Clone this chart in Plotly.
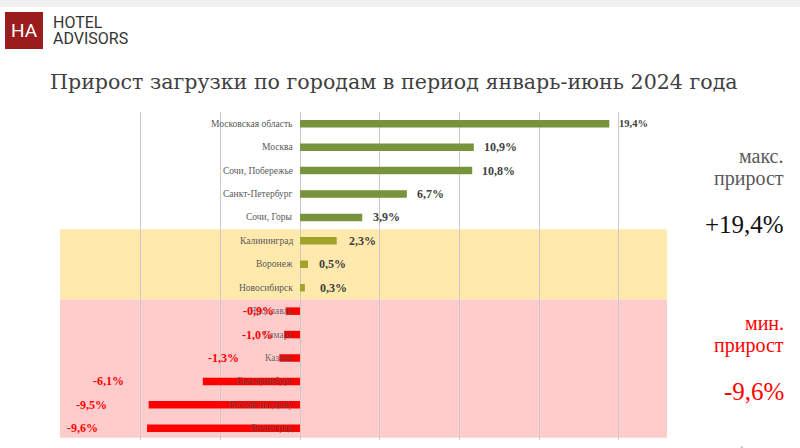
import plotly.graph_objects as go

cities = ["Московская область", "Москва", "Сочи, Побережье", "Санкт-Петербург", "Сочи, Горы",
          "Калининград", "Воронеж", "Новосибирск",
          "Ярославль", "Самара", "Казань", "Екатеринбург", "Ростов-на-Дону", "Волгоград"]
growth = [19.4, 10.9, 10.8, 6.7, 3.9, 2.3, 0.5, 0.3, -0.9, -1.0, -1.3, -6.1, -9.5, -9.6]
value_labels = ["19,4%", "10,9%", "10,8%", "6,7%", "3,9%", "2,3%", "0,5%", "0,3%",
                "-0,9%", "-1,0%", "-1,3%", "-6,1%", "-9,5%", "-9,6%"]
x_ticks = [-15, -10, -5, 0, 5, 10, 15, 20]

# styling (not data)
label_gap = [8, 8, 8, 8, 9, 10, 9, 13, 10, 9, 38, 77, 40, 47]
GREEN = "#77933C"
OLIVE = "#A0A22A"
RED = "#FF0000"

def bar_color(i, v):
    if v < 0:
        return RED
    return OLIVE if 5 <= i <= 7 else GREEN

colors = [bar_color(i, v) for i, v in enumerate(growth)]

fig = go.Figure()
fig.add_trace(go.Bar(
    x=growth, y=cities, orientation="h", marker=dict(color=colors, line=dict(width=0)),
    width=0.32, hoverinfo="skip",
))

serif = "Liberation Serif"
ann = []
for i, (c, v, t) in enumerate(zip(cities, growth, value_labels)):
    ann.append(dict(x=0, y=c, xref="x", yref="y", text=c, showarrow=False,
                    xanchor="right", xshift=-5,
                    font=dict(family=serif, size=9.5,
                              color="rgba(80,80,80,0.85)" if v < 0 else "#595959")))
    if v >= 0:
        ann.append(dict(x=v, y=c, xref="x", yref="y", text="<b>%s</b>" % t, showarrow=False,
                        xanchor="left", xshift=label_gap[i],
                        font=dict(family=serif, size=10.5 if i == 0 else 12, color="#404040")))
    else:
        ann.append(dict(x=v, y=c, xref="x", yref="y", text="<b>%s</b>" % t, showarrow=False,
                        xanchor="right", xshift=-label_gap[i],
                        font=dict(family=serif, size=12, color=RED)))

ann.append(dict(x=48, y=82, xref="paper", yref="paper", text="Прирост загрузки по городам в период январь-июнь 2024 года",
                showarrow=False, xanchor="left", yanchor="middle",
                font=dict(family="DejaVu Serif", size=20.6, color="#404040")))
ann.append(dict(x=24, y=31, text="HA", showarrow=False, xanchor="center", yanchor="middle",
                font=dict(family="Roboto", size=19, color="white")))
ann.append(dict(x=51, y=23, text="HOTEL", showarrow=False, xanchor="left", yanchor="middle",
                font=dict(family="Roboto", size=16, color="#333333")))
ann.append(dict(x=51, y=38, text="ADVISORS", showarrow=False, xanchor="left", yanchor="middle",
                font=dict(family="Roboto", size=16, color="#333333")))
for txt, y, size, col in [("макс.", 156, 20, "#595959"), ("прирост", 178, 20, "#595959"),
                          ("+19,4%", 224, 25, "#111111"),
                          ("мин.", 323, 20, RED), ("прирост", 345, 20, RED),
                          ("-9,6%", 391, 25, RED)]:
    ann.append(dict(x=786, y=y, text=txt, showarrow=False, xanchor="right", yanchor="middle",
                    font=dict(family=serif, size=size, color=col)))
ann.append(dict(x=735, y=450, text="Активация Windows", showarrow=False, xanchor="left", yanchor="middle",
                font=dict(family="Noto Sans", size=15, color="#c8c8c8")))

W, H = 800, 448
ML, MR, MT, MB = 60, 133, 112, 8
PW, PH = W - ML - MR, H - MT - MB
for a in ann:
    if "xref" not in a or a["xref"] == "paper":
        a["xref"] = "paper"; a["yref"] = "paper"
        a["x"] = (a["x"] - ML) / PW
        a["y"] = 1 - (a["y"] - MT) / PH

def px_rect(x0, y0, x1, y1, color):
    return dict(type="rect", xref="paper", yref="paper",
                x0=(x0 - ML) / PW, x1=(x1 - ML) / PW,
                y0=1 - (y0 - MT) / PH, y1=1 - (y1 - MT) / PH,
                fillcolor=color, line=dict(width=0), layer="below")

shapes = [
    dict(type="rect", xref="paper", yref="y", x0=0, x1=1, y0=4.5, y1=7.5,
         fillcolor="#FFE9AD", line=dict(width=0), layer="below"),
    dict(type="rect", xref="paper", yref="y", x0=0, x1=1, y0=7.5, y1=13.4,
         fillcolor="#FFCCCC", line=dict(width=0), layer="below"),
    px_rect(0, 0, 800, 7, "#F0F0F0"),
    px_rect(5, 12, 43, 49, "#9B1C1C"),
]

fig.update_layout(
    width=W, height=H, margin=dict(l=ML, r=MR, t=MT, b=MB),
    paper_bgcolor="white", plot_bgcolor="rgba(0,0,0,0)",
    showlegend=False, annotations=ann, shapes=shapes,
    xaxis=dict(range=[-15.06, 23.02], tickvals=x_ticks, showticklabels=False,
               showgrid=True, gridcolor="#D0C8C8", gridwidth=1, zeroline=False, fixedrange=True),
    yaxis=dict(categoryorder="array", categoryarray=cities, autorange=False,
               range=[13.5, -0.5], showticklabels=False, showgrid=False, zeroline=False,
               fixedrange=True),
    bargap=0.6,
)
fig.write_html("out.html", config={"displayModeBar": False},
               post_script="document.body.style.margin='0';document.body.style.overflow='hidden';")
